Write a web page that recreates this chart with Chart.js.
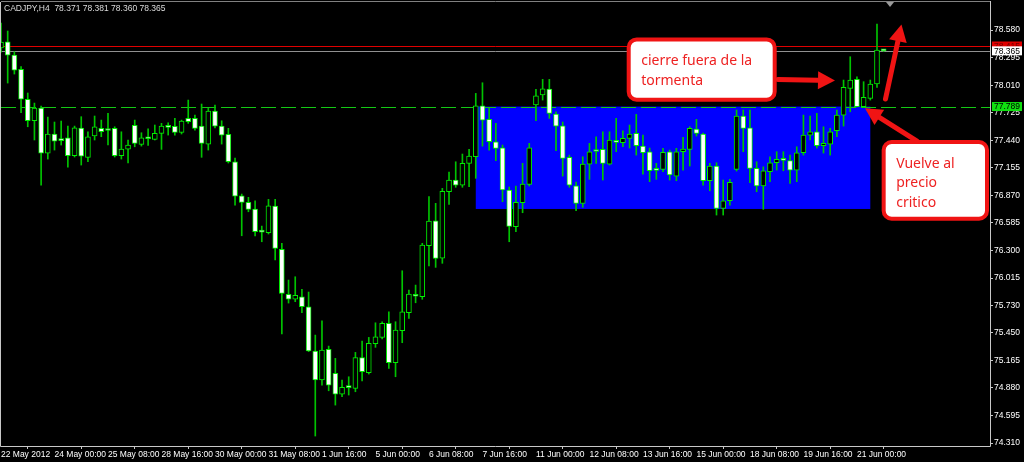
<!DOCTYPE html>
<html><head><meta charset="utf-8">
<script src="https://cdn.jsdelivr.net/npm/chart.js@4.4.1/dist/chart.umd.min.js"></script>
<style>html,body{margin:0;padding:0;background:#000;overflow:hidden}#wrap{width:1024px;height:462px;position:relative}canvas{display:block}</style>
</head><body><div id="wrap"><canvas id="c" width="1024" height="462"></canvas></div>
<script>
const symbol = 'CADJPY';
const timeframe = 'H4';
const opens = [78.394,78.459,78.321,78.174,77.863,77.642,77.774,77.308,77.505,77.453,77.466,77.280,77.567,77.262,77.484,77.564,77.561,77.564,77.280,77.349,
77.595,77.398,77.470,77.450,77.512,77.590,77.584,77.522,77.667,77.667,77.587,77.401,77.742,77.587,77.501,77.218,76.866,76.798,76.729,76.499,
76.484,76.760,76.313,75.847,75.796,75.822,75.719,75.261,74.961,75.278,75.030,74.816,74.888,74.875,75.192,75.037,75.336,75.402,75.547,75.140,
75.471,75.657,75.833,75.822,76.350,76.608,76.222,76.908,77.029,76.977,77.202,77.270,77.797,77.657,77.425,77.363,76.926,76.546,76.794,76.985,
77.805,77.908,77.970,77.712,77.590,77.264,76.970,76.788,77.194,77.344,77.346,77.194,77.435,77.415,77.460,77.512,77.380,77.322,77.135,77.140,
77.322,77.070,77.322,77.346,77.556,77.505,77.022,77.174,76.736,76.815,77.140,77.691,77.570,77.150,76.967,77.115,77.208,77.236,77.229,77.132,
77.311,77.494,77.528,77.384,77.401,77.539,77.701,77.977,78.070,77.787,77.874,78.022,78.371];
const highs = [78.652,78.570,78.356,78.201,77.929,77.825,77.794,77.680,77.629,77.639,77.587,77.587,77.684,77.528,77.691,77.649,77.719,77.580,77.528,77.443,
77.649,77.518,77.559,77.598,77.615,77.621,77.667,77.649,77.856,77.701,77.815,77.770,77.804,77.642,77.564,77.256,76.884,76.850,76.815,76.553,
76.829,76.829,76.375,75.995,76.029,75.899,75.871,75.426,75.574,75.312,75.185,74.961,74.995,75.247,75.364,75.402,75.553,75.564,75.667,75.564,
76.091,75.892,75.943,76.375,76.857,76.788,76.943,77.112,77.218,77.298,77.346,77.925,78.035,77.770,77.615,77.391,76.957,76.967,77.202,77.408,
77.967,78.070,78.070,77.735,77.629,77.287,77.008,77.270,77.408,77.477,77.528,77.528,77.667,77.539,77.598,77.708,77.494,77.360,77.202,77.357,
77.339,77.357,77.470,77.580,77.657,77.515,77.202,77.208,77.029,77.036,77.753,77.753,77.753,77.218,77.166,77.270,77.322,77.322,77.287,77.373,
77.701,77.691,77.719,77.580,77.564,77.753,78.063,78.304,78.097,78.046,78.063,78.642,78.381];
const lows = [78.352,78.032,78.125,77.725,77.580,77.443,76.977,77.246,77.339,77.391,77.163,77.267,77.184,77.218,77.443,77.477,77.391,77.267,77.246,77.205,
77.373,77.380,77.388,77.443,77.346,77.494,77.494,77.505,77.615,77.546,77.264,77.339,77.567,77.401,77.205,76.770,76.453,76.701,76.450,76.391,
76.471,76.202,75.437,75.757,75.771,75.657,75.255,74.382,74.909,74.850,74.702,74.788,74.806,74.840,74.951,75.023,75.299,75.385,75.082,74.995,
75.347,75.599,75.760,75.796,76.140,76.126,76.168,76.778,76.954,76.954,76.960,77.047,77.380,77.339,77.229,76.805,76.391,76.494,76.691,76.967,
77.642,77.856,77.667,77.332,77.070,76.954,76.712,76.747,77.036,77.202,77.029,77.184,77.322,77.373,77.360,77.287,77.091,77.012,77.036,77.115,
77.029,77.022,77.132,77.174,77.484,76.977,76.918,76.667,76.667,76.770,77.122,77.322,77.001,76.908,76.726,77.012,77.132,77.125,76.995,77.012,
77.287,77.443,77.360,77.308,77.287,77.477,77.587,77.735,77.784,77.781,77.856,77.988,78.360];
const closes = [78.456,78.321,78.166,77.866,77.642,77.774,77.308,77.505,77.432,77.437,77.282,77.570,77.277,77.477,77.580,77.528,77.541,77.280,77.349,77.391,
77.408,77.466,77.456,77.512,77.587,77.574,77.522,77.639,77.632,77.564,77.408,77.742,77.587,77.494,77.218,76.863,76.798,76.726,76.494,76.491,
76.763,76.323,75.857,75.796,75.837,75.719,75.261,74.961,75.271,74.909,74.816,74.885,74.883,75.192,75.047,75.340,75.409,75.547,75.140,75.478,
75.667,75.850,75.827,76.357,76.605,76.219,76.912,77.029,76.977,77.202,77.277,77.797,77.649,77.425,77.357,76.926,76.550,76.798,76.988,77.363,
77.901,77.973,77.719,77.587,77.253,76.977,76.788,77.194,77.322,77.324,77.202,77.443,77.419,77.460,77.505,77.384,77.311,77.125,77.129,77.315,
77.081,77.322,77.349,77.564,77.512,77.022,77.174,76.736,76.815,77.005,77.691,77.564,77.150,76.967,77.125,77.208,77.243,77.233,77.132,77.311,
77.494,77.528,77.384,77.408,77.528,77.701,77.988,78.063,77.787,77.884,78.022,78.373,78.365];

const xTickIndex = [0,8,16,24,32,40,48,56,64,72,80,88,96,104,112,120,128];
const xTickLabels = ['22 May 2012','24 May 00:00','25 May 08:00','28 May 16:00','30 May 00:00','31 May 08:00','1 Jun 16:00','5 Jun 00:00','6 Jun 08:00','7 Jun 16:00','11 Jun 00:00','12 Jun 08:00','13 Jun 16:00','15 Jun 00:00','18 Jun 08:00','19 Jun 16:00','21 Jun 00:00'];
const yTickValues = [78.580,78.295,78.010,77.725,77.440,77.155,76.870,76.585,76.300,76.015,75.730,75.450,75.165,74.880,74.595,74.310];

const askPrice = 78.415;
const bidPrice = 78.365;
const criticalPrice = 77.789;
const stormZone = {from: 71, to: 130, top: 77.789, bottom: 76.730};

const callouts = [
  {lines: ['cierre fuera de la', 'tormenta'], x0: 93.57, x1: 116.0, top: 78.504, bottom: 77.839},
  {lines: ['Vuelve al', 'precio', 'critico'], x0: 131.7, x1: 147.75, top: 77.443, bottom: 76.608}
];
const arrows = [
  {from: [116.19, 78.068], to: [124.72, 78.058]},
  {from: [136.98, 77.432], to: [129.2, 77.771]},
  {from: [132.27, 77.867], to: [134.66, 78.637]}
];
const shiftMarkerIndex = 132.95;

const wicks = lows.map((l, i) => ({x: i, y: [l, highs[i]]}));
const bodies = opens.map((o, i) => ({x: i, y: [o, closes[i]]}));
const bodyFill = opens.map((o, i) => closes[i] < o ? '#ffffff' : '#000000');

const FONT = 'Liberation Sans, Arial, sans-serif';
const RED = '#f01414';

function roundRectPath(ctx, x, y, w, h, r) {
  ctx.beginPath();
  ctx.moveTo(x + r, y);
  ctx.arcTo(x + w, y, x + w, y + h, r);
  ctx.arcTo(x + w, y + h, x, y + h, r);
  ctx.arcTo(x, y + h, x, y, r);
  ctx.arcTo(x, y, x + w, y, r);
  ctx.closePath();
}
function drawArrow(ctx, x0, y0, x1, y1) {
  const ang = Math.atan2(y1 - y0, x1 - x0);
  const headLen = 17, headHalf = 9;
  const bx = x1 - headLen * Math.cos(ang), by = y1 - headLen * Math.sin(ang);
  ctx.strokeStyle = RED; ctx.fillStyle = RED;
  ctx.lineWidth = 5; ctx.lineCap = 'round';
  ctx.beginPath(); ctx.moveTo(x0, y0); ctx.lineTo(bx, by); ctx.stroke();
  ctx.beginPath();
  ctx.moveTo(x1, y1);
  ctx.lineTo(bx + headHalf * Math.sin(ang), by - headHalf * Math.cos(ang));
  ctx.lineTo(bx - headHalf * Math.sin(ang), by + headHalf * Math.cos(ang));
  ctx.closePath(); ctx.fill();
}

const mtPlugin = {
  id: 'mt4',
  beforeDraw(chart) {
    const {ctx, width, height} = chart;
    ctx.save(); ctx.fillStyle = '#000'; ctx.fillRect(0, 0, width, height); ctx.restore();
  },
  beforeDatasetsDraw(chart) {
    const {ctx, chartArea: a, scales: {x, y}} = chart;
    ctx.save();
    ctx.beginPath(); ctx.rect(a.left, a.top, a.right - a.left, a.bottom - a.top); ctx.clip();
    const bx0 = x.getPixelForValue(stormZone.from), bx1 = x.getPixelForValue(stormZone.to);
    const by0 = y.getPixelForValue(stormZone.top), by1 = y.getPixelForValue(stormZone.bottom);
    ctx.fillStyle = '#0000ff';
    ctx.fillRect(bx0, by0, bx1 - bx0, by1 - by0);
    const hline = (p, color, dash) => {
      const py = Math.round(y.getPixelForValue(p)) + 0.5;
      ctx.strokeStyle = color; ctx.lineWidth = 1; ctx.setLineDash(dash);
      ctx.beginPath(); ctx.moveTo(a.left, py); ctx.lineTo(a.right, py); ctx.stroke();
    };
    hline(askPrice, '#e00000', []);
    hline(bidPrice, '#909090', []);
    hline(criticalPrice, '#14c814', [15, 5]);
    ctx.restore();
  },
  afterDraw(chart) {
    const {ctx, chartArea: a, scales: {x, y}} = chart;
    ctx.save();
    // frame
    ctx.lineWidth = 1;
    ctx.strokeStyle = '#808080';
    ctx.beginPath(); ctx.moveTo(a.left, a.top - 0.5); ctx.lineTo(a.right, a.top - 0.5); ctx.stroke();
    ctx.strokeStyle = '#c8c8c8';
    ctx.beginPath();
    ctx.moveTo(a.left - 0.5, a.top); ctx.lineTo(a.left - 0.5, a.bottom + 0.5);
    ctx.lineTo(a.right + 0.5, a.bottom + 0.5); ctx.lineTo(a.right + 0.5, a.top - 1);
    ctx.stroke();
    // shift marker
    const sx = x.getPixelForValue(shiftMarkerIndex);
    ctx.fillStyle = '#9a9a9a';
    ctx.beginPath(); ctx.moveTo(sx - 4, a.top); ctx.lineTo(sx + 4, a.top); ctx.lineTo(sx, a.top + 5); ctx.closePath(); ctx.fill();
    // price tags
    ctx.font = '8.5px ' + FONT; ctx.textBaseline = 'middle'; ctx.textAlign = 'left';
    const tag = (p, bg, fg) => {
      const py = y.getPixelForValue(p);
      ctx.fillStyle = bg; ctx.fillRect(a.right + 2, py - 4.5, 30, 9);
      ctx.fillStyle = fg; ctx.fillText(p.toFixed(3), a.right + 4, py + 0.5);
    };
    tag(askPrice, '#e00000', '#700000');
    tag(bidPrice, '#ffffff', '#000000');
    tag(criticalPrice, '#10e010', '#000000');
    // header
    const last = opens.length - 1;
    ctx.fillStyle = '#dcdcdc';
    ctx.fillText(`${symbol},${timeframe}  ${opens[last].toFixed(3)} ${highs[last].toFixed(3)} ${lows[last].toFixed(3)} ${closes[last].toFixed(3)}`, 4, 8.5);
    // callouts
    callouts.forEach(c => {
      const l = x.getPixelForValue(c.x0), r = x.getPixelForValue(c.x1);
      const t = y.getPixelForValue(c.top), b = y.getPixelForValue(c.bottom);
      roundRectPath(ctx, l + 2, t + 2, r - l - 4, b - t - 4, 8);
      ctx.fillStyle = '#ffffff'; ctx.fill();
      ctx.lineWidth = 4; ctx.strokeStyle = RED; ctx.stroke();
      ctx.fillStyle = '#ee2222'; ctx.font = '14px "Noto Sans", sans-serif'; ctx.textBaseline = 'alphabetic';
      c.lines.forEach((txt, k) => ctx.fillText(txt, l + 14.5, t + 28 + k * 19.4));
    });
    arrows.forEach(ar => {
      drawArrow(ctx, x.getPixelForValue(ar.from[0]), y.getPixelForValue(ar.from[1]),
                     x.getPixelForValue(ar.to[0]), y.getPixelForValue(ar.to[1]));
    });
    ctx.restore();
  }
};

const zeroPad = s => { s.paddingTop = 0; s.paddingBottom = 0; s.paddingLeft = 0; s.paddingRight = 0; };

new Chart(document.getElementById('c'), {
  type: 'bar',
  data: {
    datasets: [
      {label: 'body', data: bodies, backgroundColor: bodyFill, borderColor: '#00ee00', borderWidth: 1,
       borderSkipped: false, barThickness: 5, minBarLength: 2, grouped: false, order: 0},
      {label: 'wick', data: wicks, backgroundColor: '#00c400', borderWidth: 0,
       barThickness: 1, grouped: false, order: 1}
    ]
  },
  options: {
    responsive: false, animation: false, devicePixelRatio: 1,
    layout: {padding: {left: 1, top: 2, right: 0, bottom: 0}, autoPadding: false},
    plugins: {legend: {display: false}, tooltip: {enabled: false}, title: {display: false}},
    scales: {
      x: {
        type: 'linear', min: 0, max: 147.9, offset: false,
        grid: {display: true, drawOnChartArea: false, drawTicks: true, tickLength: 3, color: '#c8c8c8'},
        border: {display: false},
        ticks: {autoSkip: false, maxRotation: 0, minRotation: 0, align: 'start', padding: 1, color: '#ffffff',
                font: {family: FONT, size: 8.5}, callback: (v, i) => xTickLabels[i]},
        afterBuildTicks: s => { s.ticks = xTickIndex.map(v => ({value: v})); },
        afterFit: s => { s.height = 16; zeroPad(s); }
      },
      y: {
        type: 'linear', position: 'right', min: 74.279, max: 78.870,
        grid: {display: true, drawOnChartArea: false, drawTicks: true, tickLength: 3, color: '#c8c8c8'},
        border: {display: false},
        ticks: {autoSkip: false, padding: 1, color: '#ffffff', font: {family: FONT, size: 8.5},
                callback: v => Number(v).toFixed(3)},
        afterBuildTicks: s => { s.ticks = yTickValues.map(v => ({value: v})); },
        afterFit: s => { s.width = 34; zeroPad(s); }
      }
    }
  },
  plugins: [mtPlugin]
});
</script></body></html>
